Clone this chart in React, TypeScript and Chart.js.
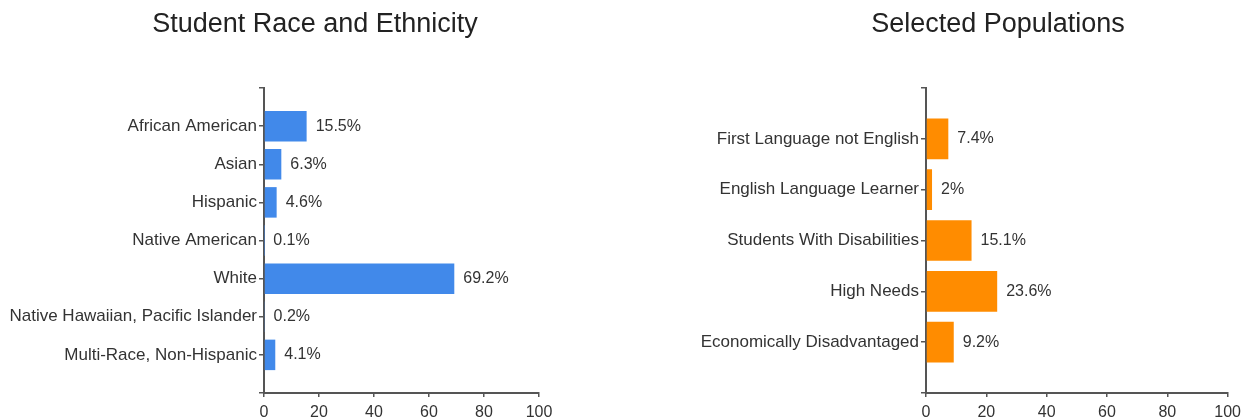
import React, { useEffect, useRef } from "react";
import { Chart, registerables } from "chart.js";

Chart.register(...registerables);

const raceCategories = [
  "African American",
  "Asian",
  "Hispanic",
  "Native American",
  "White",
  "Native Hawaiian, Pacific Islander",
  "Multi-Race, Non-Hispanic",
];
const raceValues = [15.5, 6.3, 4.6, 0.1, 69.2, 0.2, 4.1];

const popCategories = [
  "First Language not English",
  "English Language Learner",
  "Students With Disabilities",
  "High Needs",
  "Economically Disadvantaged",
];
const popValues = [7.4, 2, 15.1, 23.6, 9.2];

const xTicks = [0, 20, 40, 60, 80, 100];

const FONT = "'Liberation Sans', Arial, sans-serif";
const AXIS = "#555555";
const TEXT = "#333333";

const valueLabelPlugin = {
  id: "valueLabels",
  afterDatasetsDraw(chart: any) {
    const ctx = chart.ctx;
    const meta = chart.getDatasetMeta(0);
    const data = chart.data.datasets[0].data;
    ctx.save();
    ctx.font = `16px ${FONT}`;
    ctx.fillStyle = TEXT;
    ctx.textAlign = "left";
    ctx.textBaseline = "middle";
    meta.data.forEach((el: any, i: number) => {
      const v = data[i];
      if (v === null || v === undefined) return;
      ctx.fillText(`${v}%`, el.x + 9, el.y);
    });
    ctx.restore();
  },
};

const titlePlugin = {
  id: "panelTitle",
  afterDraw(chart: any) {
    const o = chart.options.plugins.panelTitle;
    if (!o) return;
    const ctx = chart.ctx;
    ctx.save();
    ctx.font = `27px ${FONT}`;
    ctx.fillStyle = "#222222";
    ctx.textAlign = "center";
    ctx.textBaseline = "middle";
    ctx.fillText(o.text, o.x, 25);
    ctx.restore();
  },
};

function makeConfig(
  title: string,
  titleX: number,
  cats: string[],
  vals: number[],
  color: string,
  padRight: number,
  yWidth: number
): any {
  const labels = ["", ...cats, ""];
  const data = [null, ...vals, null];
  return {
    type: "bar",
    data: {
      labels,
      datasets: [
        {
          data,
          backgroundColor: color,
          borderWidth: 0,
          barPercentage: 0.8,
          categoryPercentage: 1,
        },
      ],
    },
    plugins: [valueLabelPlugin, titlePlugin],
    options: {
      indexAxis: "y",
      animation: false,
      responsive: false,
      maintainAspectRatio: false,
      layout: { padding: { left: 0, right: padRight, top: 88, bottom: 0 } },
      plugins: {
        legend: { display: false },
        tooltip: { enabled: false },
        title: { display: false },
        panelTitle: { text: title, x: titleX },
      },
      scales: {
        x: {
          type: "linear",
          min: 0,
          max: 100,
          afterBuildTicks: (scale: any) => {
            scale.ticks = xTicks.map((v) => ({ value: v }));
          },
          afterFit: (scale: any) => {
            scale.height = 26;
          },
          border: { display: true, color: AXIS, width: 2 },
          grid: {
            display: true,
            drawOnChartArea: false,
            drawTicks: true,
            tickLength: 4,
            color: AXIS,
            lineWidth: 1.5,
          },
          ticks: {
            color: TEXT,
            padding: 6,
            font: { family: FONT, size: 16 },
            maxRotation: 0,
          },
        },
        y: {
          type: "category",
          offset: false,
          afterFit: (scale: any) => {
            scale.width = yWidth;
          },
          border: { display: true, color: AXIS, width: 2 },
          grid: {
            display: true,
            offset: false,
            drawOnChartArea: false,
            drawTicks: true,
            tickLength: 5,
            color: AXIS,
            lineWidth: 1.5,
          },
          ticks: {
            color: TEXT,
            padding: 2,
            autoSkip: false,
            font: { family: FONT, size: 17 },
          },
        },
      },
    },
  };
}

function BarPanel(props: {
  title: string;
  titleX: number;
  cats: string[];
  vals: number[];
  color: string;
  left: number;
  width: number;
  padRight: number;
  yWidth: number;
}) {
  const ref = useRef<HTMLCanvasElement | null>(null);
  useEffect(() => {
    if (!ref.current) return;
    const chart = new Chart(
      ref.current,
      makeConfig(props.title, props.titleX, props.cats, props.vals, props.color, props.padRight, props.yWidth)
    );
    return () => chart.destroy();
  }, []);
  return (
    <canvas
      ref={ref}
      width={props.width}
      height={419}
      style={{ position: "absolute", left: props.left, top: 0, width: props.width, height: 419 }}
    />
  );
}

export default function App() {
  return (
    <div
      style={{
        position: "fixed",
        left: 0,
        top: 0,
        width: 1247,
        height: 419,
        background: "#ffffff",
        overflow: "hidden",
      }}
    >
      <BarPanel
        title="Student Race and Ethnicity"
        titleX={315}
        cats={raceCategories}
        vals={raceValues}
        color="#4189EA"
        left={0}
        width={630}
        padRight={91}
        yWidth={264}
      />
      <BarPanel
        title="Selected Populations"
        titleX={368}
        cats={popCategories}
        vals={popValues}
        color="#FF8C00"
        left={630}
        width={617}
        padRight={18}
        yWidth={296}
      />
    </div>
  );
}
